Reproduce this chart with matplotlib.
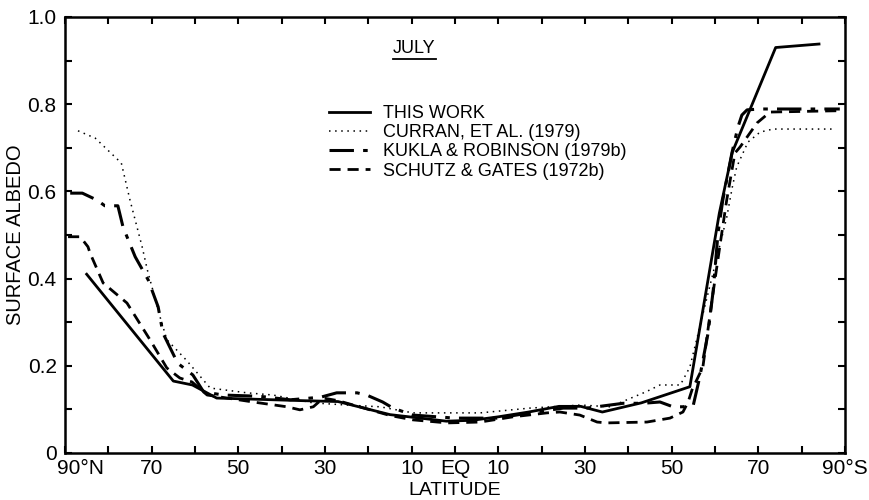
import matplotlib
matplotlib.use("Agg")
import matplotlib.pyplot as plt
from matplotlib.ticker import FixedLocator, MultipleLocator
from matplotlib.lines import Line2D
from matplotlib.transforms import ScaledTranslation

plt.rcParams['font.family'] = ['Liberation Sans', 'DejaVu Sans']

# latitude: negative = north, positive = south
this_work_lat = [-85, -65, -60.6, -55, -45, -35, -27, -15, -8, -2, 4, 10, 17, 24, 29, 34, 43, 54.2, 61, 64, 74, 84]
this_work_val = [0.41, 0.165, 0.156, 0.126, 0.123, 0.12, 0.118, 0.088, 0.08, 0.073, 0.075, 0.083, 0.094, 0.107, 0.107, 0.094, 0.115, 0.152, 0.55, 0.69, 0.93, 0.938]

curran_lat = [-87, -83, -77, -75, -72.2, -71, -68, -66.5, -62, -56.5, -48, -42, -32.8, -25, -17.3, -9.7, 5.8, 17.3, 29, 35.8, 44, 47.3, 52, 54.2, 62.7, 64, 65, 67.6, 70.4, 73.4, 87]
curran_val = [0.739, 0.722, 0.665, 0.58, 0.473, 0.42, 0.31, 0.26, 0.213, 0.149, 0.138, 0.133, 0.115, 0.11, 0.106, 0.092, 0.092, 0.103, 0.11, 0.106, 0.14, 0.156, 0.156, 0.197, 0.54, 0.61, 0.656, 0.713, 0.736, 0.743, 0.743]

kukla_lat = [-88.8, -86, -82.6, -80.8, -77.8, -76.6, -73.8, -70.8, -68.5, -67.4, -64, -60.5, -58, -53.5, -45, -38, -31, -27.3, -22.6, -20.4, -16.7, -14.3, -9.7, 0, 9.7, 17.3, 25, 30.4, 38.8, 43.4, 47.3, 50.3, 52.6, 55, 56.5, 58.4, 59.6, 60.7, 61.8, 63.9, 65.3, 66.2, 67.4, 70.4, 88.8]
kukla_val = [0.596, 0.596, 0.58, 0.567, 0.567, 0.518, 0.45, 0.397, 0.335, 0.275, 0.206, 0.179, 0.14, 0.133, 0.13, 0.122, 0.128, 0.138, 0.138, 0.133, 0.117, 0.103, 0.087, 0.08, 0.08, 0.092, 0.103, 0.103, 0.114, 0.114, 0.117, 0.106, 0.106, 0.11, 0.175, 0.275, 0.374, 0.505, 0.58, 0.688, 0.748, 0.775, 0.787, 0.789, 0.789]

schutz_lat = [-89.3, -86.5, -84.7, -84.2, -81.2, -75.7, -70.4, -66.5, -63.5, -60.7, -57.2, -46.6, -38.8, -35.8, -32.7, -30.4, -27, -15, -9.7, -1.8, 5.8, 13.4, 21.2, 24.2, 28.8, 32.8, 35, 44.3, 49.6, 52.6, 53.8, 54.7, 57.2, 59.3, 61.2, 62.7, 64.6, 65.8, 69.7, 72.7, 88.4]
schutz_val = [0.496, 0.496, 0.473, 0.458, 0.39, 0.344, 0.26, 0.195, 0.172, 0.163, 0.133, 0.117, 0.106, 0.099, 0.106, 0.126, 0.12, 0.086, 0.076, 0.069, 0.071, 0.083, 0.092, 0.094, 0.087, 0.071, 0.069, 0.071, 0.08, 0.094, 0.117, 0.145, 0.197, 0.35, 0.48, 0.58, 0.688, 0.702, 0.757, 0.782, 0.785]

labels = ["THIS WORK", "CURRAN, ET AL. (1979)", "KUKLA & ROBINSON (1979b)", "SCHUTZ & GATES (1972b)"]

xtick_pos = [-90, -70, -50, -30, -10, 0, 10, 30, 50, 70, 90]
xtick_labels = ["90°N", "70", "50", "30", "10", "EQ", "10", "30", "50", "70", "90°S"]
xminor_pos = [-80, -60, -40, -20, 20, 40, 60, 80]
ytick_pos = [0, 0.2, 0.4, 0.6, 0.8, 1.0]
ytick_labels = ["0", "0.2", "0.4", "0.6", "0.8", "1.0"]

fig = plt.figure(figsize=(8.69, 5.0), dpi=100)
ax = fig.add_axes([65/869, 47/500, 780/869, 436/500])

ax.plot(this_work_lat, this_work_val, color='black', lw=2.0, linestyle='-', label=labels[0])
ax.plot(curran_lat, curran_val, color='black', lw=1.1, linestyle=(0, (1, 3)), label=labels[1])
ax.plot(kukla_lat, kukla_val, color='black', lw=2.2, linestyle=(0, (8, 3, 1.5, 3)), label=labels[2])
ax.plot(schutz_lat, schutz_val, color='black', lw=2.0, linestyle=(0, (4, 2.5)), label=labels[3])

ax.set_xlim(-90, 90)
ax.set_ylim(0, 1.0)
ax.xaxis.set_major_locator(FixedLocator(xtick_pos))
ax.set_xticklabels(xtick_labels)
ax.xaxis.set_minor_locator(FixedLocator(xminor_pos))
ax.yaxis.set_major_locator(FixedLocator(ytick_pos))
ax.set_yticklabels(ytick_labels)
ax.yaxis.set_minor_locator(MultipleLocator(0.1))
ax.tick_params(which='both', direction='in', length=5, width=1.5, top=True, right=True,
               labelsize=15, pad=4)
ax.tick_params(axis='y', pad=6)
for s in ax.spines.values():
    s.set_linewidth(1.8)

# shift the "90°N" label right so it clears the "0" label
first = ax.get_xticklabels()[0]
first.set_horizontalalignment('left')
first.set_transform(first.get_transform() + ScaledTranslation(-6/72, 0, fig.dpi_scale_trans))

ax.set_xlabel("LATITUDE", fontsize=14, labelpad=3)
ax.set_ylabel("SURFACE ALBEDO", fontsize=14.5, labelpad=2)

title = ax.text(0.448, 0.927, 'JULY', transform=ax.transAxes,
                ha='center', va='center', fontsize=13)

leg = ax.legend(loc='upper left', bbox_to_anchor=(0.338, 0.798), frameon=False,
                fontsize=13, handlelength=2.3, handletextpad=0.7, labelspacing=0.12,
                borderpad=0, borderaxespad=0)

# underline the title using its rendered extent
fig.canvas.draw()
bb = title.get_window_extent().transformed(fig.transFigure.inverted())
fig.add_artist(Line2D([bb.x0, bb.x1], [bb.y0 - 0.004, bb.y0 - 0.004],
                      transform=fig.transFigure, color='black', lw=1.3))

fig.savefig("out.png", dpi=100)
